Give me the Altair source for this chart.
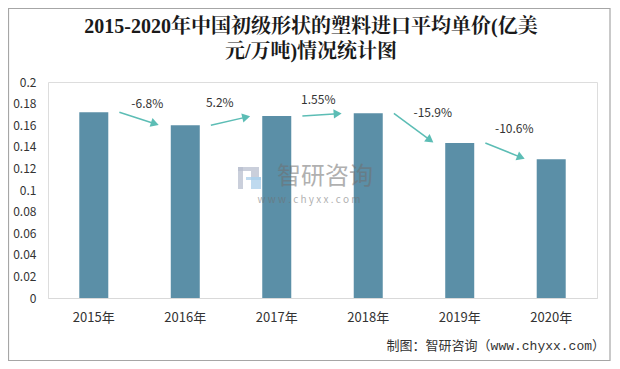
import math
import altair as alt
import pandas as pd

# ---------------- data ----------------
years = ["2015年", "2016年", "2017年", "2018年", "2019年", "2020年"]
prices = [0.172, 0.160, 0.1685, 0.171, 0.1435, 0.1285]
growth = ["-6.8%", "5.2%", "1.55%", "-15.9%", "-10.6%"]
y_ticks = [0, 0.02, 0.04, 0.06, 0.08, 0.1, 0.12, 0.14, 0.16, 0.18, 0.2]

title_lines = ["2015-2020年中国初级形状的塑料进口平均单价(亿美", "元/万吨)情况统计图"]
source_note = "制图：智研咨询（www.chyxx.com）"
watermark_name = "智研咨询"
watermark_url = "w w w . c h y x x . c o m"

# annotation placement (in category-index / value units)
arrow_start_off = 0.28
arrow_end_off = 0.72
label_x_off = [0.585, 0.377, 0.454, 0.705, 0.596]
label_y = [0.1796, 0.1806, 0.1833, 0.1713, 0.1565]

# ---------------- layout ----------------
W, H = 549, 216
Y_MAX = 0.2
PX_X = W / len(years)
PX_Y = H / Y_MAX
BAR_COLOR = "#5b8fa7"
ARROW_COLOR = "#5cbdb5"
FONT = "Noto Sans CJK SC"

df = pd.DataFrame({"year": years, "price": prices})

rows = []
for i in range(len(years) - 1):
    xs, ys = i + arrow_start_off, prices[i]
    xe, ye = i + arrow_end_off, prices[i + 1]
    dxp = (xe - xs) * PX_X
    dyp = -(ye - ys) * PX_Y
    L = math.hypot(dxp, dyp)
    ux, uy = dxp / L, dyp / L
    back = 5.0
    xc = xe - back * ux / PX_X
    yc = ye + back * uy / PX_Y
    ang = math.degrees(math.atan2(uy, ux)) % 360
    rows.append({"xs": xs, "ys": ys, "xc": xc, "yc": yc, "ang": ang,
                 "lx": i + label_x_off[i], "ly": label_y[i], "lab": growth[i]})
adf = pd.DataFrame(rows)

single = alt.Data(values=[{"k": 1}])

def qx(field):
    return alt.X(field, scale=alt.Scale(domain=[-0.5, len(years) - 0.5], nice=False, zero=False), axis=None)

yq_scale = alt.Scale(domain=[0, Y_MAX], nice=False)

# watermark logo (decorative)
logo = pd.DataFrame({
    "x0": [190, 190, 203, 198, 203],
    "x1": [211, 195, 211, 213, 213],
    "y0": [85, 85, 89, 95, 95],
    "y1": [89, 107, 95, 98, 107],
    "c": ["#b8bfcf", "#b8bfcf", "#b8bfcf", "#a9cdea", "#a9cdea"],
})
logo_layer = alt.Chart(logo).mark_rect(opacity=0.75).encode(
    x=alt.X("x0:Q", scale=None), x2="x1:Q",
    y=alt.Y("y0:Q", scale=None), y2="y1:Q",
    color=alt.Color("c:N", scale=None),
)

wm1 = alt.Chart(single).mark_text(
    text=watermark_name, font=FONT, fontSize=24, color="#707070", opacity=0.55,
    align="center", baseline="middle"
).encode(x=alt.value(277), y=alt.value(95))
wm2 = alt.Chart(single).mark_text(
    text=watermark_url, font=FONT, fontSize=10, color="#707070", opacity=0.55,
    align="center", baseline="middle"
).encode(x=alt.value(261), y=alt.value(118))

bars = alt.Chart(df).mark_bar(color=BAR_COLOR).encode(
    x=alt.X("year:N", sort=years, title=None,
            scale=alt.Scale(paddingInner=0.683, paddingOuter=0.342),
            axis=alt.Axis(labelAngle=0, ticks=False, domainColor="#d9d9d9", labelFont=FONT,
                          labelFontSize=13, labelColor="#333333", labelPadding=13)),
    y=alt.Y("price:Q", title=None, scale=yq_scale,
            axis=alt.Axis(values=y_ticks, format=".2~f", domain=False, ticks=False, grid=False,
                          labelFont=FONT, labelFontSize=12, labelColor="#333333", labelPadding=12)),
)

arrows = alt.Chart(adf).mark_rule(color=ARROW_COLOR, strokeWidth=1.5).encode(
    x=qx("xs:Q"), x2="xc:Q",
    y=alt.Y("ys:Q", scale=yq_scale, axis=None), y2="yc:Q",
)
heads = alt.Chart(adf).mark_point(shape="triangle-right", filled=True, size=85,
                                  color=ARROW_COLOR, opacity=1).encode(
    x=qx("xc:Q"),
    y=alt.Y("yc:Q", scale=yq_scale, axis=None),
    angle=alt.Angle("ang:Q", scale=None),
)
labels = alt.Chart(adf).mark_text(font=FONT, fontSize=12, color="#333333", align="center",
                                  baseline="middle").encode(
    x=qx("lx:Q"),
    y=alt.Y("ly:Q", scale=yq_scale, axis=None),
    text="lab:N",
)

title_font = "Liberation Serif, 'Noto Serif CJK SC', 'Noto Sans CJK SC'"
t1 = alt.Chart(single).mark_text(text=title_lines[0], font=title_font, fontSize=20, fontWeight="bold",
                                 color="#1a1a1a", align="center", baseline="middle"
                                 ).encode(x=alt.value(263), y=alt.value(-55))
t2 = alt.Chart(single).mark_text(text=title_lines[1], font=title_font, fontSize=20, fontWeight="bold",
                                 color="#1a1a1a", align="center", baseline="middle"
                                 ).encode(x=alt.value(263), y=alt.value(-30))
foot = alt.Chart(single).mark_text(text=source_note, font="Liberation Mono, 'Noto Sans CJK SC'",
                                   fontSize=13, color="#333333", align="right", baseline="middle"
                                   ).encode(x=alt.value(557), y=alt.value(264))
border = alt.Chart(single).mark_rect(fillOpacity=0, stroke="#a6a6a6", strokeWidth=1.2).encode(
    x=alt.value(-39.5), x2=alt.value(562), y=alt.value(-73.5), y2=alt.value(278.5)
)

chart = alt.layer(
    bars, logo_layer, wm1, wm2, arrows, heads, labels, t1, t2, foot, border
).resolve_scale(x="independent", y="independent").properties(
    width=W, height=H,
    autosize=alt.AutoSizeParams(type="none"),
    padding={"left": 40, "top": 74, "right": 15, "bottom": 63},
).configure_view(stroke=None).configure(background="white")

chart.save("out.html", embed_options={"renderer": "svg", "actions": False})
